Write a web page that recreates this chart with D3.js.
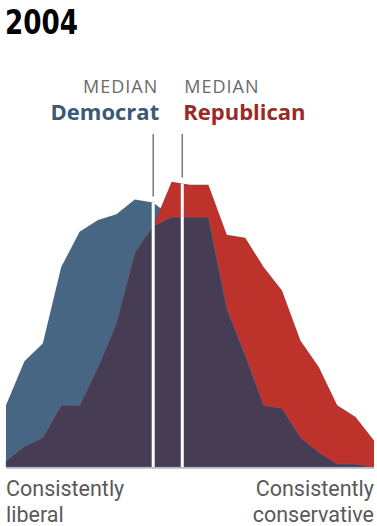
<!DOCTYPE html>
<html>
<head>
<meta charset="utf-8">
<script src="https://cdn.jsdelivr.net/npm/d3@7"></script>
<style>
  body { margin: 0; background: #fff; }
  svg { display: block; }
</style>
</head>
<body>
<div id="chart"></div>
<script>
// ideological consistency scale, -10 (consistently liberal) .. +10 (consistently conservative)
const scores = d3.range(-10, 11);

// share of each party at each score (%)
const democrats = [2.1, 3.6, 4.2, 6.8, 8.0, 8.4, 8.6, 9.1, 9.0, 8.5, 8.5, 8.5, 5.4, 3.8, 2.1, 2.0, 1.0, 0.5, 0.1, 0.1, 0.0];
const republicans = [0.2, 0.7, 1.0, 2.1, 2.1, 3.4, 4.9, 7.3, 8.2, 9.7, 9.6, 9.6, 7.9, 7.8, 6.8, 6.0, 4.3, 3.4, 2.1, 1.7, 0.9];

const medianDem = -2.0;
const medianRep = -0.42;

const title = "2004";
const endLabels = [["Consistently", "liberal"], ["Consistently", "conservative"]];

const W = 377, H = 526;
const colors = { dem: "#466684", rep: "#bd322b", both: "#463d54" };

const svg = d3.select("#chart")
    .append("svg")
    .attr("width", W)
    .attr("height", H);

// scales
const x = d3.scaleLinear()
    .domain([-10, 10])
    .range([6, 374]);

const y = d3.scaleLinear()
    .domain([0, 10])
    .range([467, 173]);

const data = scores.map((s, i) => ({
    score: s,
    dem: democrats[i],
    rep: republicans[i]
}));

const area = key => d3.area()
    .x(d => x(d.score))
    .y0(y(0))
    .y1(d => y(key(d)));

// party areas, then the overlap on top
svg.append("path")
    .datum(data)
    .attr("d", area(d => d.dem))
    .attr("fill", colors.dem);

svg.append("path")
    .datum(data)
    .attr("d", area(d => d.rep))
    .attr("fill", colors.rep);

svg.append("path")
    .datum(data)
    .attr("d", area(d => Math.min(d.dem, d.rep)))
    .attr("fill", colors.both)
    .attr("stroke", "#6e6680")
    .attr("stroke-width", 0.6);

// baseline
svg.append("line")
    .attr("x1", x(-10))
    .attr("x2", x(10))
    .attr("y1", y(0) + 1)
    .attr("y2", y(0) + 1)
    .attr("stroke", "#9a9a9a")
    .attr("stroke-width", 1);

// top of the shape at a given score
function topAt(s) {
    const i = Math.min(Math.floor(s + 10), 19);
    const t = s + 10 - i;
    const hi = Math.max(democrats[i], republicans[i]);
    const hj = Math.max(democrats[i + 1], republicans[i + 1]);
    return hi + (hj - hi) * t;
}

// median markers
[medianDem, medianRep].forEach(m => {
    svg.append("line")
        .attr("x1", x(m)).attr("x2", x(m))
        .attr("y1", y(0)).attr("y2", y(topAt(m)))
        .attr("stroke", "#fff")
        .attr("stroke-width", 3);

    svg.append("line")
        .attr("x1", x(m)).attr("x2", x(m))
        .attr("y1", 134).attr("y2", y(topAt(m)) - 6)
        .attr("stroke", "#7a7a7a")
        .attr("stroke-width", 1.5);
});

// median labels
const labelFont = "'Open Sans', 'Noto Sans', sans-serif";

svg.append("text")
    .attr("x", x(medianDem) + 5)
    .attr("y", 93)
    .attr("text-anchor", "end")
    .style("font-family", labelFont)
    .style("font-size", "18px")
    .style("letter-spacing", "1px")
    .style("fill", "#6a6a6a")
    .text("MEDIAN");

svg.append("text")
    .attr("x", x(medianDem) + 6)
    .attr("y", 120)
    .attr("text-anchor", "end")
    .style("font-family", labelFont)
    .style("font-weight", "bold")
    .style("font-size", "22px")
    .style("fill", "#3b5874")
    .text("Democrat");

svg.append("text")
    .attr("x", x(medianRep) + 2)
    .attr("y", 93)
    .style("font-family", labelFont)
    .style("font-size", "18px")
    .style("letter-spacing", "1px")
    .style("fill", "#6a6a6a")
    .text("MEDIAN");

svg.append("text")
    .attr("x", x(medianRep) + 1)
    .attr("y", 120)
    .style("font-family", labelFont)
    .style("font-weight", "bold")
    .style("font-size", "22px")
    .style("fill", "#9a2a24")
    .text("Republican");

// title, squeezed to a condensed look
svg.append("text")
    .attr("x", 5)
    .attr("y", 34)
    .attr("textLength", 73)
    .attr("lengthAdjust", "spacingAndGlyphs")
    .style("font-family", "'DejaVu Sans Condensed', 'DejaVu Sans', sans-serif")
    .style("font-weight", "bold")
    .style("font-size", "34px")
    .style("fill", "#000")
    .text(title);

// end labels under the axis, one text per line
endLabels.forEach((lines, k) => {
    lines.forEach((line, j) => {
        svg.append("text")
            .attr("x", k === 0 ? x(-10) : x(10))
            .attr("y", 496 + j * 25.5)
            .attr("text-anchor", k === 0 ? "start" : "end")
            .style("font-family", "Roboto, sans-serif")
            .style("font-size", "21.5px")
            .style("fill", "#595959")
            .text(line);
    });
});
</script>
</body>
</html>
